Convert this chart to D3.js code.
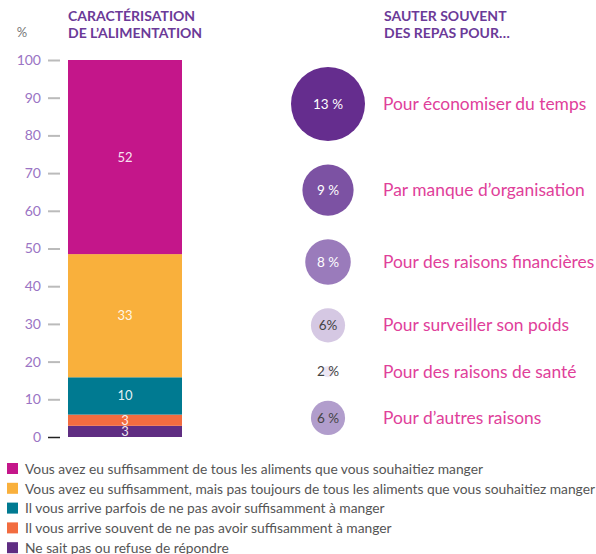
<!DOCTYPE html>
<html>
<head>
<meta charset="utf-8">
<script src="https://cdn.jsdelivr.net/npm/d3@7"></script>
<style>
  body { margin: 0; background: #fff; }
  svg { font-family: Lato, "Open Sans", sans-serif; }
</style>
</head>
<body>
<svg id="chart" width="596" height="554"></svg>
<script>
// food characterisation (top to bottom in legend)
var categories = [
    "Vous avez eu suffisamment de tous les aliments que vous souhaitiez manger",
    "Vous avez eu suffisamment, mais pas toujours de tous les aliments que vous souhaitiez manger",
    "Il vous arrive parfois de ne pas avoir suffisamment à manger",
    "Il vous arrive souvent de ne pas avoir suffisamment à manger",
    "Ne sait pas ou refuse de répondre"
];
var values = [52, 33, 10, 3, 3];
var colors = ["#c4168a", "#f9b03c", "#007a91", "#f26c3f", "#5f2d82"];
var yTicks = [0, 10, 20, 30, 40, 50, 60, 70, 80, 90, 100];

// skipping meals
var reasons = [
    "Pour économiser du temps",
    "Par manque d’organisation",
    "Pour des raisons financières",
    "Pour surveiller son poids",
    "Pour des raisons de santé",
    "Pour d’autres raisons"
];
var reasonValues = [13, 9, 8, 6, 2, 6];
var reasonLabels = ["13 %", "9 %", "8 %", "6%", "2 %", "6 %"];
var reasonColors = ["#652d8e", "#7c52a3", "#9a7bbb", "#d5c8e3", "#ece6f3", "#b19dcc"];
var reasonTextColors = ["#fff", "#fff", "#fff", "#444", "#444", "#444"];

var svg = d3.select("#chart");

// ---- left: stacked bar ----
var y = d3.scaleLinear().domain([0, 100]).range([437, 60]);
var x = d3.scaleBand().domain(["bar"]).range([68, 182]).padding(0);

var row = {};
categories.forEach(function (c, i) { row[c] = values[i]; });

var stack = d3.stack()
    .keys(categories.slice().reverse())
    .offset(d3.stackOffsetExpand);
var series = stack([row]);

function title(xp, lines) {
    lines.forEach(function (t, i) {
        svg.append("text")
            .attr("x", xp).attr("y", 21 + i * 17)
            .attr("fill", "#6b3a98").attr("font-weight", "bold").attr("font-size", 14)
            .text(t);
    });
}
title(68, ["CARACTÉRISATION", "DE L’ALIMENTATION"]);

svg.append("text")
    .attr("x", 22).attr("y", 37)
    .attr("fill", "#777").attr("font-size", 13)
    .attr("text-anchor", "middle")
    .text("%");

var axis = svg.append("g")
    .attr("transform", "translate(60,0)")
    .call(d3.axisLeft(y).tickValues(yTicks).tickSize(12).tickPadding(7));
axis.select(".domain").remove();
axis.selectAll(".tick line")
    .attr("stroke", function (d) { return d === 0 ? "#222" : "#bbb"; })
    .attr("stroke-width", function (d) { return d === 0 ? 1.5 : 2; });
axis.selectAll(".tick text")
    .attr("fill", "#9a74c4")
    .attr("font-size", 14)
    .attr("font-family", "Lato, sans-serif");

var seg = svg.selectAll(".seg")
    .data(series)
    .enter().append("g")
    .attr("class", "seg");

seg.append("rect")
    .attr("x", x("bar"))
    .attr("width", x.bandwidth())
    .attr("y", function (d) { return y(d[0][1] * 100); })
    .attr("height", function (d) { return y(d[0][0] * 100) - y(d[0][1] * 100); })
    .attr("fill", function (d) { return colors[categories.indexOf(d.key)]; });

seg.append("text")
    .attr("x", x("bar") + x.bandwidth() / 2)
    .attr("y", function (d) { return (y(d[0][0] * 100) + y(d[0][1] * 100)) / 2; })
    .attr("dy", "0.35em")
    .attr("text-anchor", "middle")
    .attr("fill", "#fff")
    .attr("fill-opacity", 0.9)
    .attr("font-size", 13)
    .text(function (d) { return values[categories.indexOf(d.key)]; });

// ---- right: bubbles ----
title(384, ["SAUTER SOUVENT", "DES REPAS POUR…"]);

var r = d3.scaleLinear().domain([0, 13]).range([0, 37]);
var gap = 23.5;
var cy = [];
var yPos = 67;
reasonValues.forEach(function (v) {
    cy.push(yPos + r(v));
    yPos += 2 * r(v) + gap;
});

var bub = svg.selectAll(".bub")
    .data(reasons)
    .enter().append("g")
    .attr("class", "bub")
    .attr("transform", function (d, i) { return "translate(328," + cy[i] + ")"; });

bub.append("circle")
    .attr("r", function (d, i) { return r(reasonValues[i]); })
    .attr("fill", function (d, i) { return reasonColors[i]; });

bub.append("text")
    .attr("text-anchor", "middle")
    .attr("dy", "0.35em")
    .attr("font-size", 13.5)
    .attr("fill", function (d, i) { return reasonTextColors[i]; })
    .text(function (d, i) { return reasonLabels[i]; });

bub.append("text")
    .attr("x", 55)
    .attr("dy", "0.35em")
    .attr("font-size", 17.4)
    .attr("fill", "#e0409a")
    .text(function (d) { return d; });

// ---- legend ----
var legend = svg.selectAll(".leg")
    .data(categories)
    .enter().append("g")
    .attr("class", "leg")
    .attr("transform", function (d, i) { return "translate(7," + (469 + i * 19.8) + ")"; });

legend.append("rect")
    .attr("y", -6).attr("width", 11).attr("height", 11)
    .attr("fill", function (d, i) { return colors[i]; });

legend.append("text")
    .attr("x", 18)
    .attr("dy", "0.35em")
    .attr("font-size", 13.8)
    .attr("fill", "#555")
    .text(function (d) { return d; });
</script>
</body>
</html>
